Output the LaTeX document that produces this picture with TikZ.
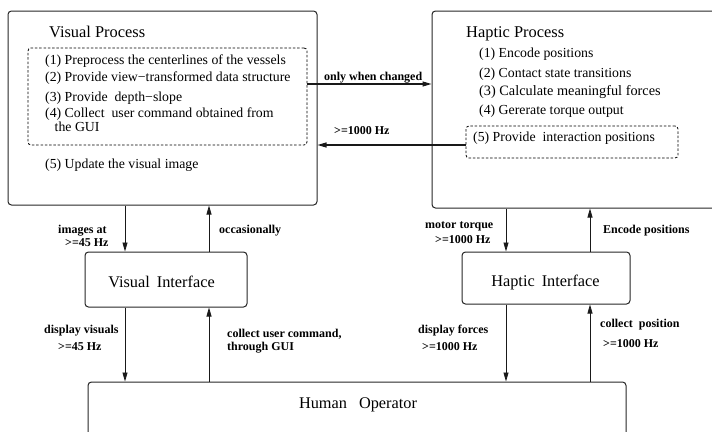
\documentclass[tikz,border=0pt]{standalone}
\usepackage{fontspec}
\setmainfont{Liberation Serif}
\usetikzlibrary{arrows.meta}

\tikzset{
  box/.style={draw=black!85, line width=1pt, rounded corners=3.5pt, inner sep=0pt},
  dbox/.style={draw=black, line width=0.8pt, dash pattern=on 2.5pt off 1.8pt, rounded corners=3pt, inner sep=0pt},
  arr/.style={draw=black!90, line width=0.8pt, -{Triangle[length=9pt,width=5pt]}},
  harr/.style={arr, line width=1.1pt},
  item/.style={anchor=base west, inner sep=0pt, font=\fontsize{13.8}{16}\selectfont},
  title/.style={anchor=base west, inner sep=0pt, font=\fontsize{16.4}{19}\selectfont},
  iface/.style={anchor=base, inner sep=0pt, font=\fontsize{16.3}{19}\selectfont},
  lbl/.style={anchor=base west, inner sep=0pt, font=\bfseries\fontsize{12}{14}\selectfont},
}

\begin{document}
\begin{tikzpicture}[x=1pt, y=-1pt]
  \clip (0,0) rectangle (712,431);

  % ---- process boxes ----
  \node (vp) [box, minimum width=309pt, minimum height=194pt] at (162.5,108) {};
  \node (hp) [box, minimum width=308pt, minimum height=197pt] at (586,109.5) {};
  \node (vdash) [dbox, minimum width=279pt, minimum height=97pt] at (167.5,96.5) {};
  \node (hdash) [dbox, minimum width=212pt, minimum height=32pt] at (572,142) {};

  % ---- interface and operator boxes ----
  \node (vi) [box, minimum width=162pt, minimum height=55pt] at (166,279.5) {};
  \node (hi) [box, minimum width=168pt, minimum height=52pt] at (546,278) {};
  \node (ho) [box, minimum width=538pt, minimum height=78pt] at (357,421) {};

  % ---- visual process text ----
  \node (vpt) [title] at (49,37) {Visual Process};
  \node (v1) [item] at (45,64) {(1) Preprocess the centerlines of the vessels};
  \node (v2) [item] at (45,81.5) {(2) Provide view−transformed data structure};
  \node (v3) [item] at (45,101) {(3) Provide\ \ depth−slope};
  \node (v4) [item] at (45,117) {(4) Collect\ \ user command obtained from};
  \node (v4b) [item] at (54.5,131) {the GUI};
  \node (v5) [item] at (45,168.5) {(5) Update the visual image};

  % ---- haptic process text ----
  \node (hpt) [title] at (466,37) {Haptic Process};
  \node (h1) [item] at (479,57) {(1) Encode positions};
  \node (h2) [item] at (479,77) {(2) Contact state transitions};
  \node (h3) [item, font=\fontsize{14.3}{16}\selectfont] at (479,95) {(3) Calculate meaningful forces};
  \node (h4) [item] at (479,114) {(4) Gererate torque output};
  \node (h5) [item] at (473,141) {(5) Provide\ \ interaction positions};

  % ---- box captions ----
  \node (vit) [iface] at (161.5,287) {Visual\hspace{7pt}Interface};
  \node (hit) [iface] at (545.5,286) {Haptic\hspace{7pt}Interface};
  \node (hot) [iface] at (358,408) {Human\hspace{12pt}Operator};

  % ---- horizontal links between processes ----
  \coordinate (c1a) at (vdash.east |- 0,84);
  \coordinate (c1b) at (hp.west |- 0,84);
  \draw[harr] (c1a) -- (c1b);
  \node (l1) [lbl] at (324,80) {only when changed};

  \coordinate (c2a) at (hdash.west |- 0,145);
  \coordinate (c2b) at (vp.east |- 0,145);
  \draw[harr] (c2a) -- (c2b);
  \node (l2) [lbl] at (334,134) {>=1000 Hz};

  % ---- visual side vertical links ----
  \draw[arr] (vp.south -| 125,0) -- (vi.north -| 125,0);
  \draw[arr] (vi.north -| 209,0) -- (vp.south -| 209,0);
  \draw[arr] (vi.south -| 125,0) -- (ho.north -| 125,0);
  \draw[arr] (ho.north -| 209,0) -- (vi.south -| 209,0);

  \node (l3) [lbl] at (58,233) {images at};
  \node (l4) [lbl] at (65,246) {>=45 Hz};
  \node (l5) [lbl] at (219,233) {occasionally};
  \node (l6) [lbl] at (44,333) {display visuals};
  \node (l7) [lbl] at (58,350) {>=45 Hz};
  \node (l8) [lbl] at (227,337) {collect user command,};
  \node (l9) [lbl] at (227,350) {through GUI};

  % ---- haptic side vertical links ----
  \draw[arr] (hp.south -| 506,0) -- (hi.north -| 506,0);
  \draw[arr] (hi.north -| 590,0) -- (hp.south -| 590,0);
  \draw[arr] (hi.south -| 506,0) -- (ho.north -| 506,0);
  \draw[arr] (ho.north -| 590,0) -- (hi.south -| 590,0);

  \node (l10) [lbl] at (425,228) {motor torque};
  \node (l11) [lbl] at (435,243) {>=1000 Hz};
  \node (l12) [lbl] at (603,233) {Encode positions};
  \node (l13) [lbl] at (418,333) {display forces};
  \node (l14) [lbl] at (422,350) {>=1000 Hz};
  \node (l15) [lbl] at (600,327) {collect\ \ position};
  \node (l16) [lbl] at (603,347) {>=1000 Hz};
\end{tikzpicture}
\end{document}
